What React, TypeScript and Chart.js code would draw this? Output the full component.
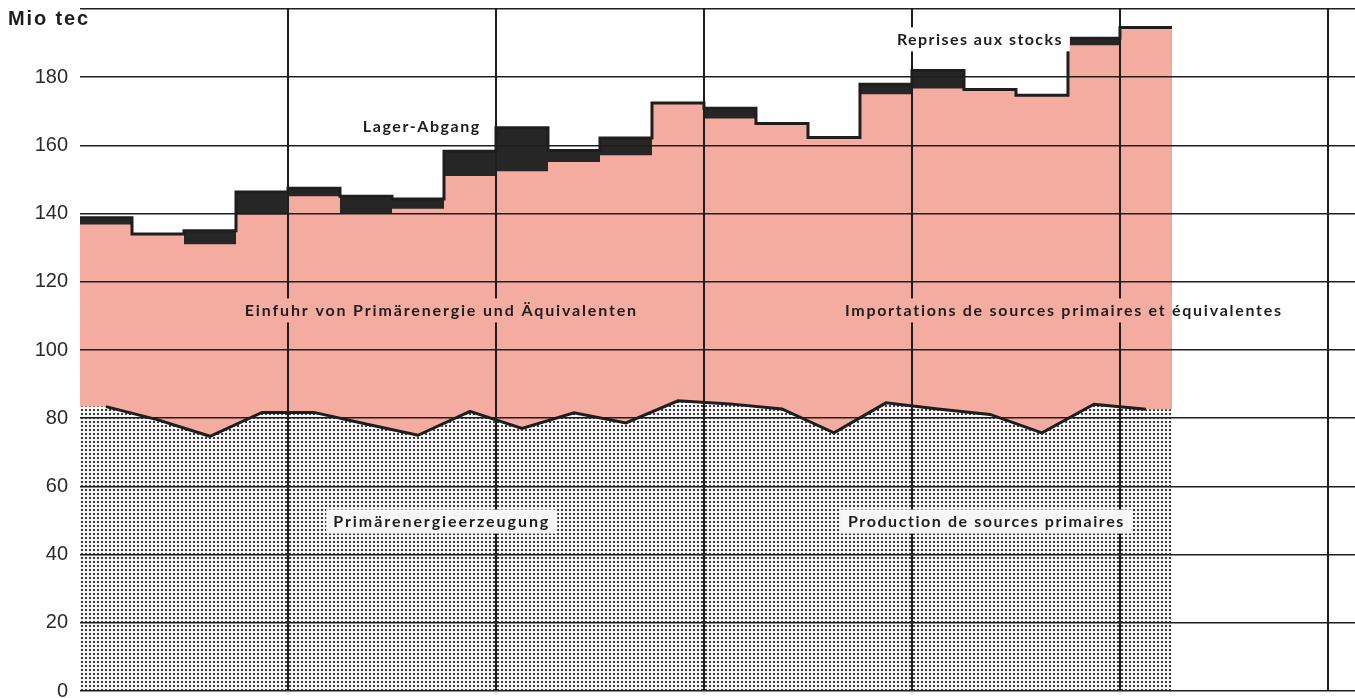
import React, { useEffect, useRef } from "react";
import { Chart, registerables } from "chart.js";

Chart.register(...registerables);

// Quarterly values, Mio tec (21 quarters)
const inlandSupply = [
  136.8, 134.0, 131.0, 139.7, 145.1, 140.2, 141.4, 151.0, 152.4, 155.1, 157.1,
  172.4, 167.9, 166.4, 162.3, 175.0, 176.7, 176.4, 174.7, 189.4, 194.6,
];
const stockDraw = [
  2.0, 0, 4.0, 6.6, 2.3, 4.9, 2.9, 7.3, 12.8, 3.4, 5.1, 0, 3.0, 0, 0, 2.9, 5.3,
  0, 0, 2.0, 0,
];
const production = [
  83.4, 79.5, 74.7, 81.7, 81.7, 78.3, 75.0, 82.0, 77.0, 81.6, 78.6, 85.1, 84.2,
  82.7, 75.7, 84.5, 82.7, 81.1, 75.7, 84.1, 82.6,
];
const yearBoundaries = [4, 8, 12, 16, 20, 24];
const yMax = 200;
const yStep = 20;

const PINK = "#f4aca1";
const INK = "#1e1e1e";

type Lbl = { text: string; x: number; y: number; w: number; box?: string; clipPink?: boolean };
const labels: Lbl[] = [
  { text: "Lager-Abgang", x: 5.44, y: 165.3, w: 118 },
  { text: "Reprises aux stocks", x: 15.71, y: 191.1, w: 166, box: "#ffffff" },
  { text: "Einfuhr von Primärenergie und Äquivalenten", x: 3.17, y: 111.6, w: 393, box: PINK },
  { text: "Importations de sources primaires et équivalentes", x: 14.71, y: 111.6, w: 438, box: PINK, clipPink: true },
  { text: "Primärenergieerzeugung", x: 4.87, y: 49.7, w: 217, box: "#f6f6f6" },
  { text: "Production de sources primaires", x: 14.77, y: 49.7, w: 277, box: "#f6f6f6" },
];

function drawFitted(ctx: CanvasRenderingContext2D, text: string, left: number, cy: number, width: number, font: string) {
  ctx.font = font;
  (ctx as any).letterSpacing = "0px";
  const w = ctx.measureText(text).width;
  const ls = (width - w) / Math.max(1, text.length);
  (ctx as any).letterSpacing = `${ls.toFixed(2)}px`;
  ctx.textAlign = "left";
  ctx.textBaseline = "middle";
  ctx.fillStyle = INK;
  ctx.fillText(text, left, cy);
  (ctx as any).letterSpacing = "0px";
}

const labelPlugin = {
  id: "textLabels",
  afterDraw(chart: any) {
    const { ctx } = chart;
    const xs = chart.scales.x;
    const ys = chart.scales.y;
    const n = inlandSupply.length;
    ctx.save();
    drawFitted(ctx, "Mio tec", 8, 19, 82, 'bold 20px "Liberation Sans"');
    for (const l of labels) {
      const left = xs.getPixelForValue(l.x);
      const cy = ys.getPixelForValue(l.y);
      if (l.box) {
        const bl = left - 7;
        const br = left + l.w + 7;
        const bt = cy - 12;
        const bh = 24;
        if (l.clipPink) {
          const edge = xs.getPixelForValue(n);
          ctx.fillStyle = l.box;
          ctx.fillRect(bl, bt, Math.min(br, edge) - bl, bh);
          if (br > edge) {
            ctx.fillStyle = "#ffffff";
            ctx.fillRect(edge, bt, br - edge, bh);
          }
        } else {
          ctx.fillStyle = l.box;
          ctx.fillRect(bl, bt, br - bl, bh);
        }
      }
      drawFitted(ctx, l.text, left, cy, l.w, 'bold 16px Lato');
    }
    ctx.restore();
  },
};

function makeDotPattern(ctx: CanvasRenderingContext2D): CanvasPattern | string {
  const tile = document.createElement("canvas");
  tile.width = 4;
  tile.height = 4;
  const t = tile.getContext("2d");
  if (!t) return "#c8c8c8";
  t.fillStyle = "#f4f4f4";
  t.fillRect(0, 0, 4, 4);
  t.fillStyle = "#3a3a3a";
  t.fillRect(1, 1, 2, 2);
  return ctx.createPattern(tile, "repeat") || "#c8c8c8";
}

export default function App() {
  const ref = useRef<HTMLCanvasElement | null>(null);

  useEffect(() => {
    const canvas = ref.current;
    if (!canvas) return;
    const ctx = canvas.getContext("2d");
    if (!ctx) return;
    const n = inlandSupply.length;
    const totals = inlandSupply.map((v, i) => v + stockDraw[i]);
    const stepPts = (arr: number[]) => [
      ...arr.map((v, i) => ({ x: i, y: v })),
      { x: n, y: arr[n - 1] },
    ];
    const prodLinePts = production.map((v, i) => ({ x: i + 0.5, y: v }));
    const prodFillPts = [
      { x: 0, y: production[0] },
      ...prodLinePts,
      { x: n, y: production[n - 1] },
    ];
    const pattern = makeDotPattern(ctx);

    const chart = new Chart(canvas, {
      type: "line",
      data: {
        datasets: [
          {
            label: "outline",
            data: stepPts(totals),
            stepped: true,
            borderColor: INK,
            borderWidth: 3,
            pointRadius: 0,
            fill: false,
            order: 0,
          },
          {
            label: "Primärenergieerzeugung",
            data: prodLinePts,
            borderColor: INK,
            borderWidth: 3,
            pointRadius: 0,
            tension: 0,
            fill: false,
            order: 1,
          },
          {
            label: "prodFill",
            data: prodFillPts,
            borderWidth: 0,
            borderColor: "rgba(0,0,0,0)",
            backgroundColor: pattern as any,
            pointRadius: 0,
            fill: "origin",
            order: 2,
          },
          {
            label: "Einfuhr",
            data: stepPts(inlandSupply),
            stepped: true,
            borderWidth: 0,
            borderColor: "rgba(0,0,0,0)",
            backgroundColor: PINK,
            pointRadius: 0,
            fill: "origin",
            order: 3,
          },
          {
            label: "Lager-Abgang",
            data: stepPts(totals),
            stepped: true,
            borderWidth: 0,
            borderColor: "rgba(0,0,0,0)",
            backgroundColor: "#262626",
            pointRadius: 0,
            fill: "origin",
            order: 4,
          },
        ],
      },
      options: {
        animation: false,
        responsive: false,
        maintainAspectRatio: false,
        devicePixelRatio: 1,
        layout: { padding: { top: 9, right: 0, bottom: 0, left: 0 } },
        plugins: {
          legend: { display: false },
          tooltip: { enabled: false },
        },
        scales: {
          x: {
            type: "linear",
            min: 0,
            max: 24.52,
            border: { display: false },
            ticks: { display: false },
            grid: { color: INK, lineWidth: 2, drawTicks: false, z: 1 } as any,
            afterBuildTicks: (s: any) => {
              s.ticks = yearBoundaries.map((v) => ({ value: v }));
            },
            afterFit: (s: any) => {
              s.height = 7;
              s.paddingLeft = 0;
              s.paddingRight = 0;
            },
          },
          y: {
            type: "linear",
            min: 0,
            max: yMax,
            border: { display: false },
            ticks: {
              stepSize: yStep,
              padding: 12,
              color: "#2a2a2a",
              font: { family: '"Liberation Sans", Arial, sans-serif', size: 20 },
              callback: (v: any) => (v === yMax ? "" : String(v)),
            },
            grid: { color: INK, lineWidth: 1.5, drawTicks: false, z: 1 } as any,
            afterFit: (s: any) => {
              s.width = 80;
              s.paddingTop = 0;
              s.paddingBottom = 0;
            },
          },
        },
      },
      plugins: [labelPlugin],
    });
    return () => chart.destroy();
  }, []);

  return (
    <div style={{ position: "fixed", left: 0, top: 0, width: 1355, height: 698, background: "#ffffff" }}>
      <canvas ref={ref} width={1355} height={698} style={{ display: "block" }} />
    </div>
  );
}
